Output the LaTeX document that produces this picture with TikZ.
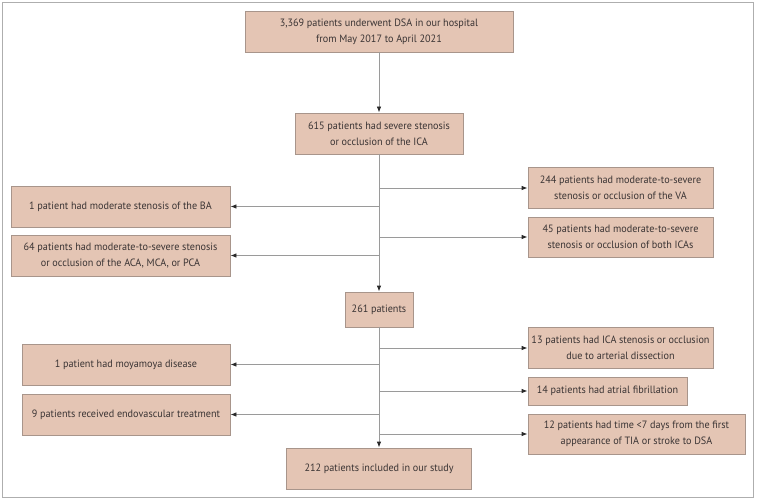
\documentclass[tikz,border=0pt]{standalone}
\usepackage{fontspec}
\setmainfont[FakeStretch=0.96]{PT Sans}
\usetikzlibrary{arrows.meta}
\definecolor{boxfill}{HTML}{E4C5B4}
\definecolor{boxdraw}{HTML}{A8958B}
\definecolor{linegrey}{HTML}{9A9A9A}
\definecolor{txt}{HTML}{3A3434}
\definecolor{tipc}{HTML}{2A2A2A}
\begin{document}
\begin{tikzpicture}[x=1pt,y=-1pt,
  bx/.style={draw=boxdraw, line width=0.8pt, fill=boxfill, text=txt, align=center,
    inner sep=0pt, font=\fontsize{10.6}{16}\selectfont},
  conn/.style={draw=linegrey, line width=0.8pt},
  arr/.style={conn, -{Latex[length=6pt,width=4.5pt,color=tipc]}}]
\useasboundingbox (0,0) rectangle (757,500);
\draw[draw=linegrey!80, line width=0.8pt] (2.5,2.5) rectangle (753.5,497.5);

\node[bx, minimum width=268pt, minimum height=41pt] (b1) at (379,31.5)
  {3,369 patients underwent DSA in our hospital\\from May 2017 to April 2021};
\node[bx, minimum width=168pt, minimum height=41pt] (b2) at (379,133.5)
  {615 patients had severe stenosis\\or occlusion of the ICA};
\node[bx, minimum width=219pt, minimum height=41pt] (ba) at (120.5,206.5)
  {1 patient had moderate stenosis of the BA};
\node[bx, minimum width=219pt, minimum height=41pt] (aca) at (120.5,255.5)
  {64 patients had moderate-to-severe stenosis\\or occlusion of the ACA, MCA, or PCA};
\node[bx, minimum width=185pt, minimum height=41pt] (va) at (620.5,187.5)
  {244 patients had moderate-to-severe\\stenosis or occlusion of the VA};
\node[bx, minimum width=185pt, minimum height=40pt] (icas) at (620.5,237)
  {45 patients had moderate-to-severe\\stenosis or occlusion of both ICAs};
\node[bx, minimum width=68pt, minimum height=35pt] (n261) at (379,309.5)
  {261 patients};
\node[bx, minimum width=208pt, minimum height=41pt] (moya) at (126,364.5)
  {1 patient had moyamoya disease};
\node[bx, minimum width=208pt, minimum height=41pt] (endo) at (126,414.5)
  {9 patients received endovascular treatment};
\node[bx, minimum width=185pt, minimum height=41pt] (diss) at (620.5,347.5)
  {13 patients had ICA stenosis or occlusion\\due to arterial dissection};
\node[bx, minimum width=159pt, minimum height=28pt] (af) at (607.5,391)
  {14 patients had atrial fibrillation};
\node[bx, minimum width=217pt, minimum height=40pt] (tia) at (636.5,434)
  {12 patients had time <7 days from the first\\appearance of TIA or stroke to DSA};
\node[bx, minimum width=185pt, minimum height=41pt] (n212) at (379,468.5)
  {212 patients included in our study};

% trunk
\draw[arr] (b1) -- (b2);
\draw[arr] (b2) -- (n261);
\draw[arr] (n261) -- (n212);

% branches, upper section
\coordinate (t1) at (379,188);
\coordinate (t2) at (379,206.5);
\coordinate (t3) at (379,237);
\coordinate (t4) at (379,255.5);
\draw[arr] (t1) -- (t1 -| va.west);
\draw[arr] (t2) -- (ba.east);
\draw[arr] (t3) -- (t3 -| icas.west);
\draw[arr] (t4) -- (aca.east);

% branches, lower section
\coordinate (u1) at (379,348);
\coordinate (u2) at (379,364.5);
\coordinate (u3) at (379,391);
\coordinate (u4) at (379,414.5);
\coordinate (u5) at (379,434);
\draw[arr] (u1) -- (u1 -| diss.west);
\draw[arr] (u2) -- (moya.east);
\draw[arr] (u3) -- (af.west);
\draw[arr] (u4) -- (endo.east);
\draw[arr] (u5) -- (tia.west);
\end{tikzpicture}
\end{document}
